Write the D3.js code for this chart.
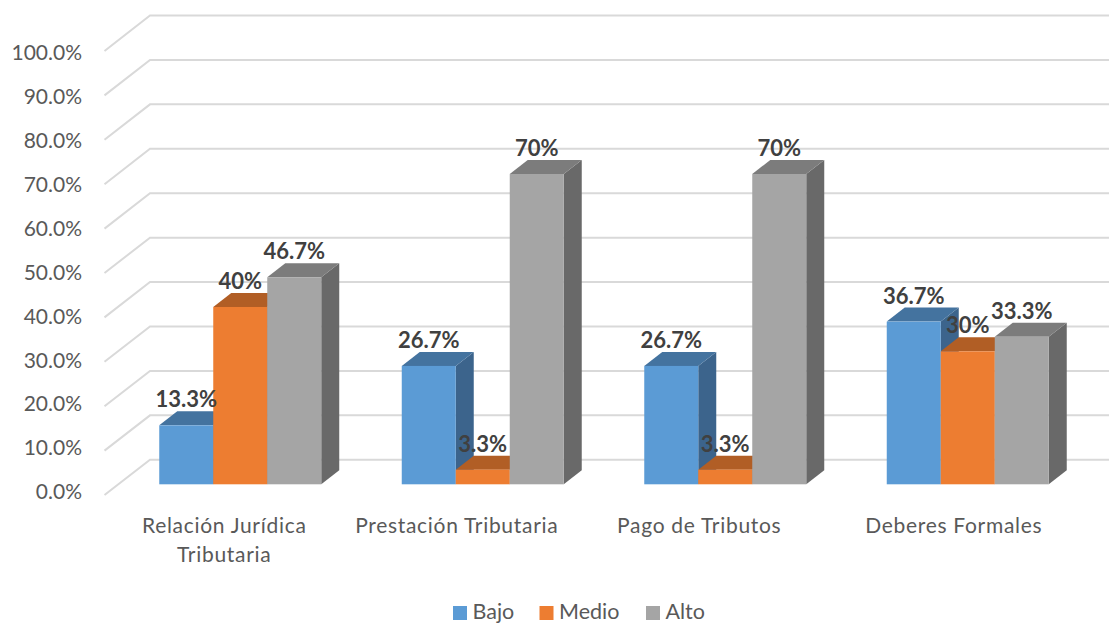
<!DOCTYPE html>
<html>
<head>
<meta charset="utf-8">
<script src="https://cdn.jsdelivr.net/npm/d3@7"></script>
<style>
  html, body { margin:0; padding:0; background:#fff; }
  text { font-family:Lato,"Open Sans",sans-serif; }
</style>
</head>
<body>
<svg id="chart" width="1109" height="623"></svg>
<script>
/* ---------- data ---------- */
const categories = ["Relación Jurídica Tributaria", "Prestación Tributaria", "Pago de Tributos", "Deberes Formales"];
const categoryLines = [["Relación Jurídica", "Tributaria"], ["Prestación Tributaria"], ["Pago de Tributos"], ["Deberes Formales"]];
const seriesNames = ["Bajo", "Medio", "Alto"];
const bajo  = [13.3, 26.7, 26.7, 36.7];
const medio = [40, 3.3, 3.3, 30];
const alto  = [46.7, 70, 70, 33.3];
const bajoLabels  = ["13.3%", "26.7%", "26.7%", "36.7%"];
const medioLabels = ["40%", "3.3%", "3.3%", "30%"];
const altoLabels  = ["46.7%", "70%", "70%", "33.3%"];
const yTicks = [0, 10, 20, 30, 40, 50, 60, 70, 80, 90, 100];

const frontColors = ["#5B9BD5", "#ED7D31", "#A5A5A5"];
const topColors   = ["#44739F", "#B15E25", "#7C7C7C"];
const sideColors  = ["#3C648C", "#9C5220", "#696969"];

/* ---------- scales ---------- */
const svg = d3.select("#chart");
const x = d3.scaleBand().domain(categories).range([119, 1089]).paddingInner(0.332).paddingOuter(0.166);
const xSeries = d3.scaleBand().domain(seriesNames).range([0, x.bandwidth()]);
const y = d3.scaleLinear().domain([0, 100]).range([484.3, 41]);
const yFront = d3.scaleLinear().domain([0, 100]).range([495, 51]);
const yBack  = d3.scaleLinear().domain([0, 100]).range([459.8, 15.5]);
const yLabel = d3.scaleLinear().domain([0, 100]).range([492, 53]);
const depth = { dx: 18, dy: 14 };

/* ---------- grid (side wall + back wall) ---------- */
const grid = svg.append("g").attr("fill", "none").attr("stroke", "#D9D9D9").attr("stroke-width", 2);
grid.selectAll("path").data(yTicks).enter().append("path")
  .attr("d", d => `M104.5,${yFront(d)}L150,${yBack(d)}L1109,${yBack(d)}`);

/* ---------- y axis labels ---------- */
const axis = svg.append("g").attr("transform", "translate(82,0)")
  .call(d3.axisLeft(yLabel).tickValues(yTicks).tickSize(0).tickPadding(0).tickFormat(d => d.toFixed(1) + "%"));
axis.select(".domain").remove();
axis.selectAll("text").attr("fill", "#595959").style("font-size", "21px").style("font-family", "Lato");

/* ---------- bars ---------- */
const seriesValues = [bajo, medio, alto];
const seriesLabels = [bajoLabels, medioLabels, altoLabels];
const bars = svg.append("g");
const labels = svg.append("g");

categories.forEach((cat, c) => {
  seriesNames.forEach((name, s) => {
    const v = seriesValues[s][c];
    const x0 = x(cat) + xSeries(name), x1 = x0 + xSeries.bandwidth();
    const yt = y(v), yb = y(0);
    const { dx, dy } = depth;
    const g = bars.append("g");
    g.append("path").attr("fill", sideColors[s])
      .attr("d", `M${x1},${yt}L${x1 + dx},${yt - dy}L${x1 + dx},${yb - dy}L${x1},${yb}Z`);
    g.append("path").attr("fill", topColors[s])
      .attr("d", `M${x0},${yt}L${x0 + dx},${yt - dy}L${x1 + dx},${yt - dy}L${x1},${yt}Z`);
    g.append("rect").attr("fill", frontColors[s])
      .attr("x", x0).attr("y", yt).attr("width", x1 - x0).attr("height", yb - yt);
    labels.append("text")
      .attr("x", (x0 + x1) / 2).attr("y", yt - 18)
      .attr("text-anchor", "middle").attr("fill", "#404040")
      .style("font-size", "22px").style("font-weight", "700")
      .text(seriesLabels[s][c]);
  });
});

/* ---------- category labels ---------- */
const catOffset = [-16, -26, -26, -14];
const catLabels = svg.append("g").attr("fill", "#595959").attr("text-anchor", "middle").style("font-size", "21px").style("letter-spacing", "0.7px");
categories.forEach((cat, c) => {
  categoryLines[c].forEach((line, i) => {
    catLabels.append("text")
      .attr("x", x(cat) + x.bandwidth() / 2 + catOffset[c])
      .attr("y", 533 + i * 29)
      .text(line);
  });
});

/* ---------- legend ---------- */
const legendX = d3.scaleOrdinal().domain(seriesNames).range([453, 539.5, 646]);
const legend = svg.append("g");
seriesNames.forEach((name, s) => {
  legend.append("rect").attr("x", legendX(name)).attr("y", 606).attr("width", 14).attr("height", 14).attr("fill", frontColors[s]);
  legend.append("text").attr("x", legendX(name) + 19.5).attr("y", 618.5)
    .attr("fill", "#595959").style("font-size", "21.5px").text(name);
});
</script>
</body>
</html>
